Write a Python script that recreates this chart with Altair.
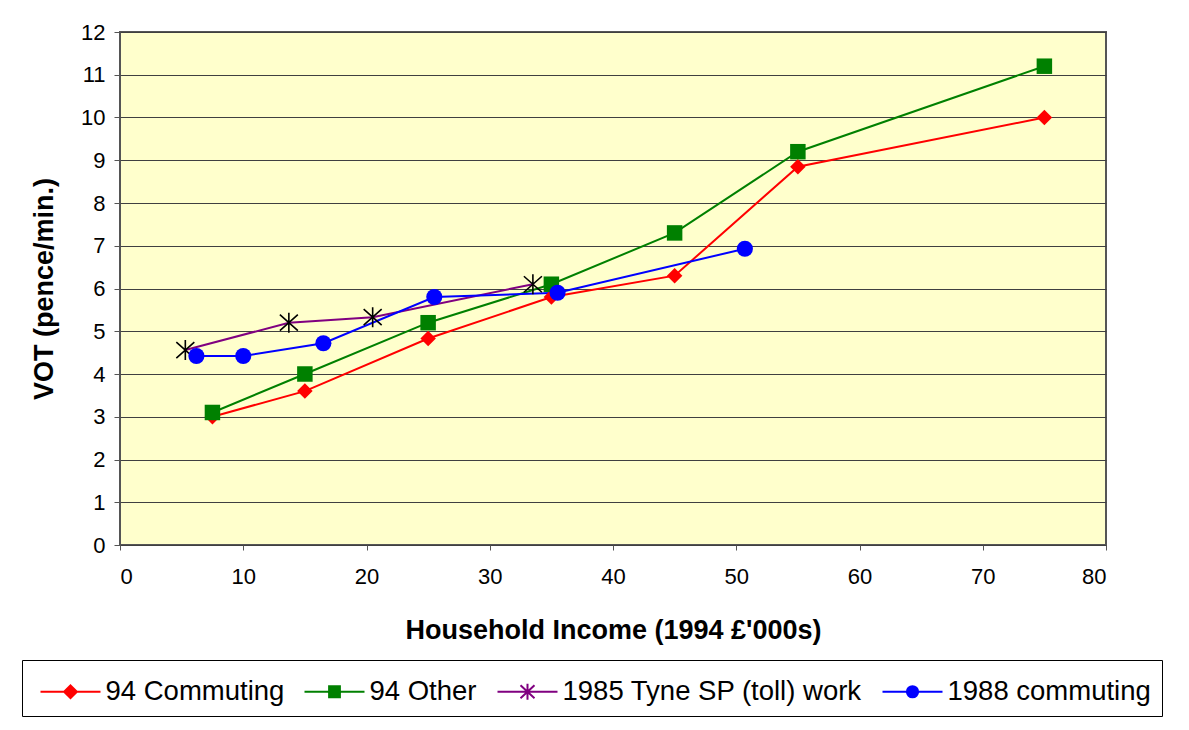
import altair as alt
import pandas as pd

series_names = ["94 Commuting", "94 Other", "1985 Tyne SP (toll) work", "1988 commuting"]
series_colors = ["#FF0000", "#008000", "#800080", "#0000FF"]

commute94_x = [7.5, 15, 25, 35, 45, 55, 75]
commute94_y = [3.0, 3.6, 4.83, 5.8, 6.3, 8.85, 10.0]
other94_x = [7.5, 15, 25, 35, 45, 55, 75]
other94_y = [3.1, 4.0, 5.2, 6.1, 7.3, 9.2, 11.2]
tyne85_x = [5.3, 13.7, 20.5, 33.5]
tyne85_y = [4.56, 5.2, 5.33, 6.1]
commute88_x = [6.2, 10, 16.5, 25.5, 35.5, 50.7]
commute88_y = [4.42, 4.42, 4.72, 5.8, 5.9, 6.93]

x_ticks = [0, 10, 20, 30, 40, 50, 60, 70, 80]
y_ticks = list(range(0, 13))

rows = []
for name, xs, ys in [
    (series_names[0], commute94_x, commute94_y),
    (series_names[1], other94_x, other94_y),
    (series_names[2], tyne85_x, tyne85_y),
    (series_names[3], commute88_x, commute88_y),
]:
    for i, (xv, yv) in enumerate(zip(xs, ys)):
        rows.append({"series": name, "income": xv, "vot": yv, "idx": i})
df = pd.DataFrame(rows)

FONT = "Liberation Sans"

x_enc = alt.X("income:Q", scale=alt.Scale(domain=[0, 80], nice=False),
              axis=alt.Axis(values=x_ticks, title="Household Income (1994 £'000s)",
                            grid=False, domain=False, tickSize=5, tickColor="#555555",
                            labelFontSize=22, labelPadding=16, labelColor="black",
                            titleFontSize=27, titleFontWeight="bold", titlePadding=30,
                            titleColor="black", labelFont=FONT, titleFont=FONT))
y_enc = alt.Y("vot:Q", scale=alt.Scale(domain=[0, 12], nice=False),
              axis=alt.Axis(values=y_ticks, title="VOT (pence/min.)",
                            grid=True, gridColor="#404040", gridWidth=1,
                            domain=False, tickSize=6, tickColor="#555555",
                            labelFontSize=22, labelPadding=9, labelColor="black",
                            titleFontSize=27, titleFontWeight="bold", titlePadding=22,
                            titleColor="black", labelFont=FONT, titleFont=FONT))

# legend symbols: line segment with marker
legend_paths = [
    "M-1.5,0L1.5,0M0,-0.32L0.32,0L0,0.32L-0.32,0Z",
    "M-1.5,0L1.5,0M-0.27,-0.27L0.27,-0.27L0.27,0.27L-0.27,0.27Z",
    "M-1.5,0L1.5,0M0,-0.4L0,0.4M-0.35,-0.32L0.35,0.32M-0.35,0.32L0.35,-0.32",
    "M-1.5,0L1.5,0M-0.28,0A0.28,0.28,0,1,0,0.28,0A0.28,0.28,0,1,0,-0.28,0Z",
]

legend = alt.Legend(
    title=None, orient="none", legendX=-98, legendY=628, direction="horizontal",
    columns=4, labelFont=FONT, labelFontSize=27.5, labelColor="black",
    symbolSize=1600, symbolStrokeWidth=2, symbolOffset=17, labelOffset=14,
    columnPadding=12, padding=10.5, strokeColor="black", fillColor="white",
    labelLimit=500, symbolOpacity=1,
)

legend_layer = alt.Chart(df).mark_point(opacity=1).encode(
    x=x_enc, y=y_enc,
    fill=alt.Fill("series:N", scale=alt.Scale(domain=series_names, range=series_colors), legend=legend),
    stroke=alt.Stroke("series:N", scale=alt.Scale(domain=series_names, range=series_colors), legend=legend),
    shape=alt.Shape("series:N", scale=alt.Scale(domain=series_names, range=legend_paths), legend=legend),
).transform_filter("false")

layers = []
for name, col in zip(series_names, series_colors):
    layers.append(
        alt.Chart(df).mark_line(strokeWidth=2, color=col).encode(
            x=x_enc, y=y_enc, order="idx:Q"
        ).transform_filter(alt.datum.series == name)
    )

marker_specs = [
    (series_names[0], "diamond", 240, "#FF0000", True),
    (series_names[1], "square", 240, "#008000", True),
    (series_names[2], "M0,-1L0,1M-0.9,-0.8L0.9,0.8M-0.9,0.8L0.9,-0.8", 400, "black", False),
    (series_names[3], "circle", 260, "#0000FF", True),
]
for name, shape, size, col, filled in marker_specs:
    if filled:
        mk = alt.Chart(df).mark_point(shape=shape, size=size, filled=True, opacity=1, color=col)
    else:
        mk = alt.Chart(df).mark_point(shape=shape, size=size, filled=False, opacity=1,
                                      stroke=col, strokeWidth=1.6)
    layers.append(mk.encode(x=x_enc, y=y_enc).transform_filter(alt.datum.series == name))

layers.append(legend_layer)

chart = alt.layer(*layers).properties(
    width=986, height=513,
    autosize=alt.AutoSizeParams(type="none"),
    padding={"left": 120, "top": 32, "right": 83, "bottom": 185},
    background="white",
).configure_view(
    fill="#FFFFCC", stroke="#555555", strokeWidth=2
)

chart.save("out.html", embed_options={"renderer": "svg", "actions": False})
